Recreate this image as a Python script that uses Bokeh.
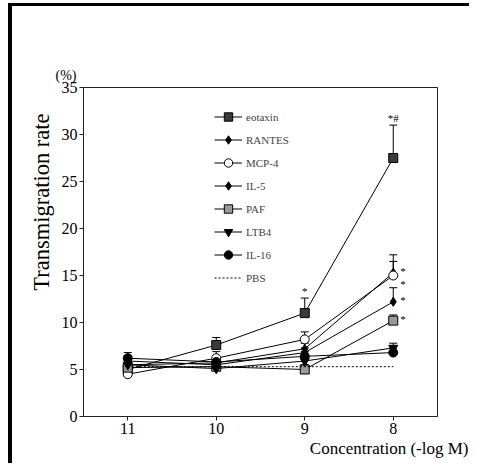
from bokeh.plotting import figure
from bokeh.models import (Range1d, Whisker, TeeHead, ColumnDataSource, Legend,
                          LegendItem, Title, FixedTicker)
from bokeh.core.properties import value
from bokeh.embed import file_html
from bokeh.resources import INLINE

# ---------------- data ----------------
conc = [11, 10, 9, 8]
eotaxin = [5.0, 7.6, 11.0, 27.5]
eotaxin_err = [0.6, 0.8, 1.6, 3.5]
rantes = [5.5, 5.7, 7.2, 15.3]
rantes_err = [0.6, 0.5, 0.6, 1.9]
mcp4 = [4.5, 6.2, 8.2, 15.0]
mcp4_err = [0.5, 0.7, 0.8, 1.5]
il5 = [5.9, 5.5, 6.8, 12.2]
il5_err = [0.6, 0.5, 0.5, 1.5]
paf = [5.2, 5.3, 5.0, 10.2]
paf_err = [0.5, 0.4, 0.5, 0.6]
ltb4 = [5.5, 5.1, 5.9, 7.3]
ltb4_err = [0.5, 0.4, 0.5, 0.5]
il16 = [6.2, 5.8, 6.4, 6.8]
il16_err = [0.6, 0.4, 0.5, 0.5]
pbs = [5.3, 5.3, 5.3, 5.3]

y_ticks = [0, 5, 10, 15, 20, 25, 30, 35]
x_ticks = [11, 10, 9, 8]

# significance marks: (series, concentration, text)
sig_series = ["eotaxin", "eotaxin", "RANTES", "MCP-4", "IL-5", "PAF"]
sig_conc = [9, 8, 8, 8, 8, 8]
sig_text = ["*", "*#", "*", "*", "*", "*"]

FONT = "Liberation Serif"

series = {
    "eotaxin": (eotaxin, eotaxin_err, dict(marker="square", fill_color="#3a3a3a")),
    "RANTES": (rantes, rantes_err, dict(marker="diamond", fill_color="black")),
    "MCP-4": (mcp4, mcp4_err, dict(marker="circle", fill_color="white")),
    "IL-5": (il5, il5_err, dict(marker="diamond", fill_color="black")),
    "PAF": (paf, paf_err, dict(marker="square", fill_color="#9a9a9a")),
    "LTB4": (ltb4, ltb4_err, dict(marker="inverted_triangle", fill_color="black")),
    "IL-16": (il16, il16_err, dict(marker="circle", fill_color="black")),
}

p = figure(width=461, height=460, output_backend="svg", toolbar_location=None,
           x_range=Range1d(11.5, 7.5), y_range=Range1d(0, 35),
           min_border_left=71, min_border_right=36, min_border_top=81,
           min_border_bottom=50)
p.styles = {"border-left": "4px solid black", "border-top": "3px solid black",
            "margin-left": "8px", "margin-top": "3px"}
p.grid.visible = False
p.outline_line_color = "#222222"
p.outline_line_width = 1

for ax in (p.xaxis[0], p.yaxis[0]):
    ax.major_label_text_font = FONT
    ax.major_label_text_font_size = "16px"
    ax.major_label_text_color = "black"
    ax.axis_line_color = "#222222"
    ax.major_tick_line_color = "#222222"
    ax.minor_tick_line_color = None
    ax.major_tick_in = 0
    ax.major_tick_out = 4
p.yaxis[0].ticker = FixedTicker(ticks=y_ticks)
p.xaxis[0].ticker = FixedTicker(ticks=x_ticks)
p.yaxis[0].major_label_standoff = 2
p.xaxis[0].major_label_standoff = 2

items = []
for name, (vals, errs, st) in series.items():
    src = ColumnDataSource(dict(x=conc, y=vals, up=[v + e for v, e in zip(vals, errs)]))
    ln = p.line("x", "y", source=src, line_color="black", line_width=1)
    w = Whisker(base="x", lower="y", upper="up", source=src, dimension="height",
                line_color="black", line_width=1,
                upper_head=TeeHead(size=8, line_color="black", line_width=1),
                lower_head=None)
    p.add_layout(w)
    sc = p.scatter("x", "y", source=src, size=9, line_color="black", line_width=1, **st)
    items.append(LegendItem(label=name, renderers=[ln, sc]))

pb = p.line(conc, pbs, line_color="black", line_width=1, line_dash="2 2")
items.append(LegendItem(label="PBS", renderers=[pb]))

# significance marks
sx, sy, st_txt, syo = [], [], [], []
for s, c, t in zip(sig_series, sig_conc, sig_text):
    vals, errs, _ = series[s]
    i = conc.index(c)
    if s == "eotaxin":
        sx.append(c); sy.append(vals[i] + errs[i]); syo.append(-1)
    else:
        sx.append(c - 0.11); sy.append(vals[i]); syo.append(14 if s == "MCP-4" else 4)
    st_txt.append(t)
p.text(sx, sy, text=st_txt, text_font=value(FONT), text_font_size="11px",
       text_align="center", text_baseline="bottom", y_offset=syo, text_color="black")

legend = Legend(items=items, location=(131, 128), padding=0, margin=0,
                spacing=2, glyph_width=28, glyph_height=21, label_height=21,
                label_standoff=4, label_text_font=FONT, label_text_font_size="11px",
                background_fill_alpha=0, border_line_color=None)
p.add_layout(legend)

p.add_layout(Title(text="(%)", align="left", offset=-28, standoff=10,
                   text_font=FONT, text_font_size="14px", text_font_style="normal",
                   text_color="black"), "above")
p.add_layout(Title(text="Transmigration rate", align="right", offset=26,
                   text_font=FONT, text_font_size="22.5px", text_font_style="normal",
                   text_color="black"), "left")
p.add_layout(Title(text="Concentration (-log M)", align="right", offset=-31,
                   standoff=0,
                   text_font=FONT, text_font_size="17px", text_font_style="normal",
                   text_color="black"), "below")

open("out.html", "w").write(file_html(p, INLINE))
